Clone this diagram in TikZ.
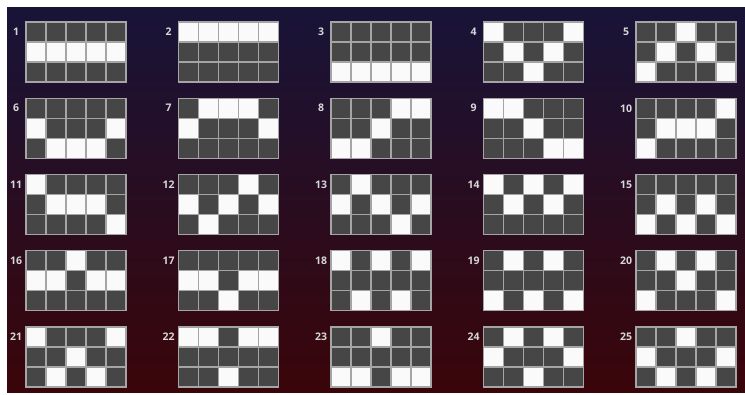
\documentclass[tikz,border=0pt]{standalone}
\usepackage{fontspec}
\setsansfont{Open Sans}
\usepackage{xcolor}
\usepackage{tikz}

\definecolor{bgtop}{RGB}{24,20,56}
\definecolor{bgmid}{RGB}{36,12,34}
\definecolor{bgbot}{RGB}{58,5,9}
\definecolor{cellon}{RGB}{250,250,250}
\definecolor{celloff}{RGB}{70,70,70}
\definecolor{cellrule}{RGB}{165,165,165}
\definecolor{lblcol}{RGB}{215,215,215}

\tikzset{
  offcell/.style={fill=celloff, draw=cellrule, line width=1.3pt},
  oncell/.style={fill=cellon, draw=cellrule, line width=1.3pt},
  linelbl/.style={font=\sffamily\bfseries\fontsize{10.5}{10.5}\selectfont, text=lblcol, inner sep=0pt},
}

\begin{document}
\begin{tikzpicture}[x=1pt, y=-1pt]
        \useasboundingbox (0,0) rectangle (745,395);
        % Background
        \shade[top color=bgtop, middle color=bgmid, bottom color=bgbot] (7,8) rectangle (745,393);
        % Paylines: number / white row of each reel (0 top, 1 middle, 2 bottom)
        \foreach \n/\a/\b/\c/\d/\e in {
            1/1/1/1/1/1, 2/0/0/0/0/0, 3/2/2/2/2/2, 4/0/1/2/1/0, 5/2/1/0/1/2,
            6/1/2/2/2/1, 7/1/0/0/0/1, 8/2/2/1/0/0, 9/0/0/1/2/2, 10/2/1/1/1/0,
            11/0/1/1/1/2, 12/1/2/1/0/1, 13/1/0/1/2/1, 14/0/1/0/1/0, 15/2/1/2/1/2,
            16/1/1/0/1/1, 17/1/1/2/1/1, 18/0/2/0/2/0, 19/2/0/2/0/2, 20/2/0/1/0/2,
            21/0/2/1/2/0, 22/0/0/2/0/0, 23/2/2/0/2/2, 24/1/0/2/0/1, 25/1/2/0/2/1}{
            \pgfmathsetmacro\gx{26+152.5*mod(\n-1,5)}
            \pgfmathsetmacro\gy{22+76.25*floor((\n-1)/5)}
            \node[linelbl] (lbl\n) at (\gx-10,\gy+10) {\n};
            \foreach \k in {0,...,4}
                \foreach \r in {0,1,2}
                    \draw[offcell] (\gx+20*\k,\gy+20*\r) rectangle ++(20,20);
            \foreach \w [count=\k from 0] in {\a,\b,\c,\d,\e}
                \draw[oncell] (\gx+20*\k,\gy+20*\w) rectangle ++(20,20);
        }
    \end{tikzpicture}
\end{document}
